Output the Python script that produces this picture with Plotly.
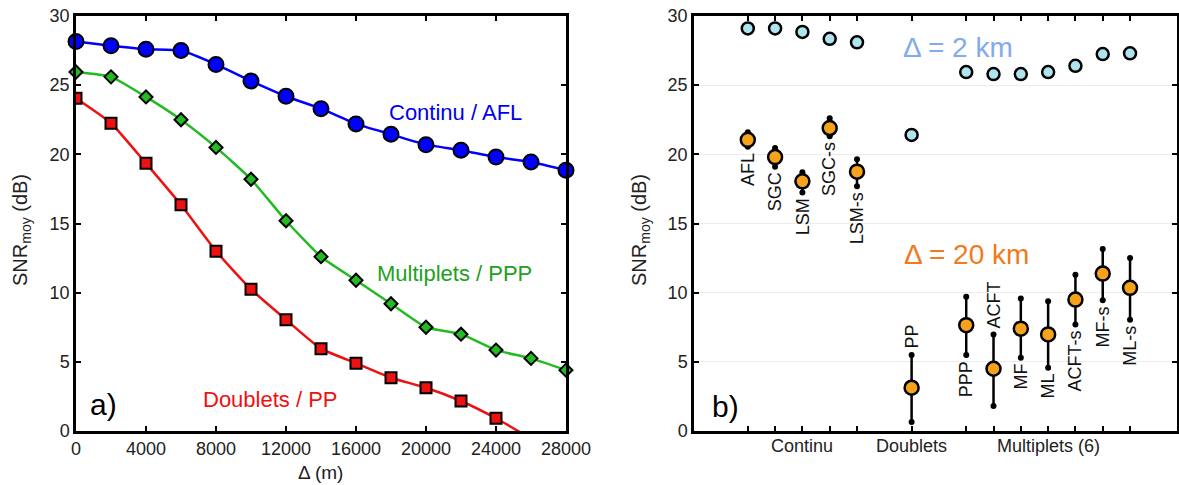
import plotly.graph_objects as go

# ---------------- Data ----------------
# Panel a)
delta_m = [0, 2000, 4000, 6000, 8000, 10000, 12000, 14000, 16000, 18000, 20000, 22000, 24000, 26000, 28000]
snr_continu = [28.15, 27.85, 27.6, 27.5, 26.5, 25.3, 24.2, 23.3, 22.2, 21.45, 20.7, 20.3, 19.8, 19.45, 18.85]
snr_multiplets = [25.95, 25.6, 24.15, 22.5, 20.5, 18.2, 15.2, 12.6, 10.9, 9.2, 7.5, 7.0, 5.85, 5.25, 4.4]
snr_doublets = [24.05, 22.25, 19.35, 16.35, 13.0, 10.25, 8.05, 5.95, 4.9, 3.85, 3.13, 2.17, 0.92, -0.55, -2.0]
delta_ticks = [0, 4000, 8000, 12000, 16000, 20000, 24000, 28000]
delta_ticktext = ["0", "4000", "8000", "12000", "16000", "20000", "24000", "28000"]
snr_ticks = [0, 5, 10, 15, 20, 25, 30]

# Panel b)
methods = ["AFL", "SGC", "LSM", "SGC-s", "LSM-s", "PP", "PPP", "ACFT", "MF", "ML", "ACFT-s", "MF-s", "ML-s"]
method_pos = [1, 2, 3, 4, 5, 7, 9, 10, 11, 12, 13, 14, 15]
label_side = ["below", "below", "below", "below", "below", "above", "below", "above", "below", "below", "below", "below", "below"]
snr_2km = [29.1, 29.1, 28.85, 28.35, 28.1, 21.4, 25.95, 25.8, 25.8, 25.95, 26.4, 27.25, 27.3]
snr_20km = [21.05, 19.8, 18.05, 21.9, 18.75, 3.13, 7.65, 4.5, 7.4, 6.98, 9.5, 11.38, 10.35]
snr_20km_hi = [21.6, 20.45, 18.7, 22.6, 19.65, 5.5, 9.7, 6.98, 9.57, 9.38, 11.3, 13.15, 12.5]
snr_20km_lo = [20.55, 19.1, 17.25, 21.3, 17.7, 0.65, 5.5, 1.8, 5.3, 4.57, 7.7, 9.45, 8.05]
groups = ["Continu", "Doublets", "Multiplets (6)"]
group_pos = [3, 7, 12]

FONT = "Liberation Sans, Arial, sans-serif"
W, H = 1179, 485
# plot area in window pixels: x 76..1177, y 16..431
ML, MR, MT, MB = 76, W - 1177, 16, H - 431
PW = W - ML - MR
PH = H - MT - MB


def px(xp):
    """window pixel x -> paper x"""
    return (xp - ML) / PW


def py(yp):
    """window pixel y -> paper y"""
    return (H - MB - yp) / PH


fig = go.Figure()

# ---- Panel a) ----
fig.add_trace(go.Scatter(x=delta_m, y=snr_continu, mode="lines+markers",
                         line=dict(color="#0000ff", width=2.5, shape="spline", smoothing=0.5),
                         marker=dict(symbol="circle", size=15, color="#0000ff", line=dict(color="black", width=2)),
                         xaxis="x", yaxis="y", showlegend=False, cliponaxis=False))
fig.add_trace(go.Scatter(x=delta_m, y=snr_multiplets, mode="lines+markers",
                         line=dict(color="#22bb22", width=2.5, shape="spline", smoothing=0.5),
                         marker=dict(symbol="diamond", size=10, color="#22bb22", line=dict(color="black", width=2)),
                         xaxis="x", yaxis="y", showlegend=False, cliponaxis=False))
fig.add_trace(go.Scatter(x=delta_m, y=snr_doublets, mode="lines+markers",
                         line=dict(color="#ee1111", width=2.5, shape="spline", smoothing=0.5),
                         marker=dict(symbol="square", size=11, color="#ee1111", line=dict(color="black", width=2)),
                         xaxis="x", yaxis="y", showlegend=False, cliponaxis=True))

# ---- Panel b) ----
bx, by = [], []
for p, lo, hi in zip(method_pos, snr_20km_lo, snr_20km_hi):
    bx += [p, p, None]
    by += [lo, hi, None]
fig.add_trace(go.Scatter(x=bx, y=by, mode="lines+markers",
                         line=dict(color="black", width=2.5),
                         marker=dict(symbol="circle", size=6, color="black"),
                         xaxis="x2", yaxis="y2", showlegend=False, cliponaxis=False))
fig.add_trace(go.Scatter(x=method_pos, y=snr_20km, mode="markers",
                         marker=dict(symbol="circle", size=14, color="#f7a21c", line=dict(color="black", width=2.5)),
                         xaxis="x2", yaxis="y2", showlegend=False, cliponaxis=False))
fig.add_trace(go.Scatter(x=method_pos, y=snr_2km, mode="markers",
                         marker=dict(symbol="circle", size=12, color="#aee3f0", line=dict(color="black", width=2.5)),
                         xaxis="x2", yaxis="y2", showlegend=False, cliponaxis=False))

axis_common = dict(showline=True, linewidth=2.5, linecolor="black", mirror="ticks",
                   ticks="inside", ticklen=5, tickwidth=2, tickcolor="black",
                   tickfont=dict(family=FONT, size=18, color="#222"), zeroline=False,
                   automargin=False, ticklabeloverflow="allow")

fig.update_layout(
    width=W, height=H,
    margin=dict(l=ML, r=MR, t=MT, b=MB),
    paper_bgcolor="white", plot_bgcolor="white",
    font=dict(family=FONT, size=18, color="black"),
    hovermode=False,
    xaxis=dict(domain=[0, px(566)], range=[0, 28000], tickvals=delta_ticks, ticktext=delta_ticktext,
               showgrid=False, **axis_common),
    yaxis=dict(domain=[0, 1], range=[0, 30], tickvals=snr_ticks,
               showgrid=False, **axis_common),
    xaxis2=dict(domain=[px(694), 1], range=[-0.97, 16.72], tickvals=method_pos, showticklabels=False,
                showgrid=False, anchor="y2", **axis_common),
    yaxis2=dict(domain=[0, 1], range=[0, 30], tickvals=snr_ticks,
                showgrid=True, gridcolor="#ececec", gridwidth=1, anchor="x2", **axis_common),
)

C = dict(xanchor="center", yanchor="middle", showarrow=False)
ann = []
# axis titles
ann.append(dict(x=px(22), y=py(230), xref="paper", yref="paper", text="SNR<sub>moy</sub> (dB)",
                textangle=-90, font=dict(size=20, color="#222"), **C))
ann.append(dict(x=px(641), y=py(230), xref="paper", yref="paper", text="SNR<sub>moy</sub> (dB)",
                textangle=-90, font=dict(size=20, color="#222"), **C))
ann.append(dict(x=px(320), y=py(472), xref="paper", yref="paper", text="Δ (m)",
                font=dict(size=19, color="#222"), **C))
# panel a) labels
ann.append(dict(x=21700, y=23.05, xref="x", yref="y", text="Continu / AFL",
                font=dict(size=22, color="#0000ee"), **C))
ann.append(dict(x=21600, y=11.35, xref="x", yref="y", text="Multiplets / PPP",
                font=dict(size=22, color="#22a022"), **C))
ann.append(dict(x=11100, y=2.3, xref="x", yref="y", text="Doublets / PP",
                font=dict(size=22, color="#ee1111"), **C))
ann.append(dict(x=1550, y=1.95, xref="x", yref="y", text="a)",
                font=dict(size=30, color="black"), **C))
# panel b) labels
ann.append(dict(x=0.17, y=1.8, xref="x2", yref="y2", text="b)",
                font=dict(size=30, color="black"), **C))
ann.append(dict(x=8.7, y=27.75, xref="x2", yref="y2", text="Δ = 2 km",
                font=dict(size=28, color="#82aaee"), **C))
ann.append(dict(x=9.0, y=12.75, xref="x2", yref="y2", text="Δ = 20 km",
                font=dict(size=28, color="#f07a1c"), **C))
for m, p, side, lo, hi in zip(methods, method_pos, label_side, snr_20km_lo, snr_20km_hi):
    if side == "below":
        ann.append(dict(x=p, y=lo, xref="x2", yref="y2", text=m, textangle=-90, showarrow=False,
                        xanchor="center", yanchor="top", yshift=-4, font=dict(size=18, color="#111")))
    else:
        ann.append(dict(x=p, y=hi, xref="x2", yref="y2", text=m, textangle=-90, showarrow=False,
                        xanchor="center", yanchor="bottom", yshift=4, font=dict(size=18, color="#111")))
for g, gp in zip(groups, group_pos):
    ann.append(dict(x=gp, y=py(446), xref="x2", yref="paper", text=g,
                    font=dict(size=18, color="#222"), **C))

fig.update_layout(annotations=ann)
fig.write_html("out.html", config={"displayModeBar": False},
               post_script="document.body.style.margin='0';document.body.style.overflow='hidden';")
